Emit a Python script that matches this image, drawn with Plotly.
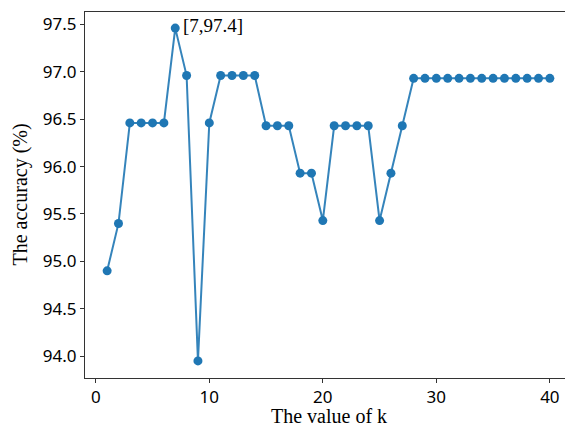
import plotly.graph_objects as go

k_values = list(range(1, 41))
accuracy = [94.90, 95.40, 96.46, 96.46, 96.46, 96.46, 97.46, 96.96, 93.95, 96.46,
            96.96, 96.96, 96.96, 96.96, 96.43, 96.43, 96.43, 95.93, 95.93, 95.43,
            96.43, 96.43, 96.43, 96.43, 95.43, 95.93, 96.43, 96.93, 96.93, 96.93,
            96.93, 96.93, 96.93, 96.93, 96.93, 96.93, 96.93, 96.93, 96.93, 96.93]
y_ticks = [94.0, 94.5, 95.0, 95.5, 96.0, 96.5, 97.0, 97.5]
y_tick_labels = ["94.0", "94.5", "95.0", "95.5", "96.0", "96.5", "97.0", "97.5"]
x_ticks = [0, 10, 20, 30, 40]
annotation_text = "[7,97.4]"
annotation_pos = (7.5, 97.4)
x_title = "The value of k"
y_title = "The accuracy (%)"

fig = go.Figure()
fig.add_trace(go.Scatter(
    x=k_values, y=accuracy, mode="lines+markers",
    line=dict(color="rgba(31,119,180,0.9)", width=2),
    marker=dict(color="#1f77b4", size=9),
    showlegend=False,
))
fig.add_annotation(
    x=annotation_pos[0], y=annotation_pos[1], text=annotation_text,
    showarrow=False, xanchor="left", yanchor="bottom", yshift=-4,
    font=dict(family="Liberation Serif", size=19, color="black"),
)
title_font = dict(family="Liberation Serif", size=20, color="black")
fig.add_annotation(
    xref="paper", yref="paper", x=0.5, y=0, yshift=-26, text=x_title,
    showarrow=False, xanchor="center", yanchor="top", font=title_font,
    borderpad=0,
)
fig.add_annotation(
    xref="paper", yref="paper", x=0, y=0.5, xshift=-53, text=y_title, textangle=-90,
    showarrow=False, xanchor="right", yanchor="middle", font=title_font,
    borderpad=0,
)
axis_common = dict(
    showline=True, linecolor="#333", linewidth=1, mirror=True, automargin=False,
    ticks="outside", ticklen=4, tickcolor="#333", showgrid=False, zeroline=False,
    tickfont=dict(family="Noto Sans", size=17, color="black"),
)
fig.update_xaxes(range=[-0.95, 41.95], tickvals=x_ticks, **axis_common)
fig.update_yaxes(range=[93.77, 97.63], tickvals=y_ticks, ticktext=y_tick_labels,
                 **axis_common)
fig.update_layout(
    width=565, height=417,
    margin=dict(l=77, r=1, t=4, b=47),
    plot_bgcolor="white", paper_bgcolor="white",
)
fig.write_html("out.html")
